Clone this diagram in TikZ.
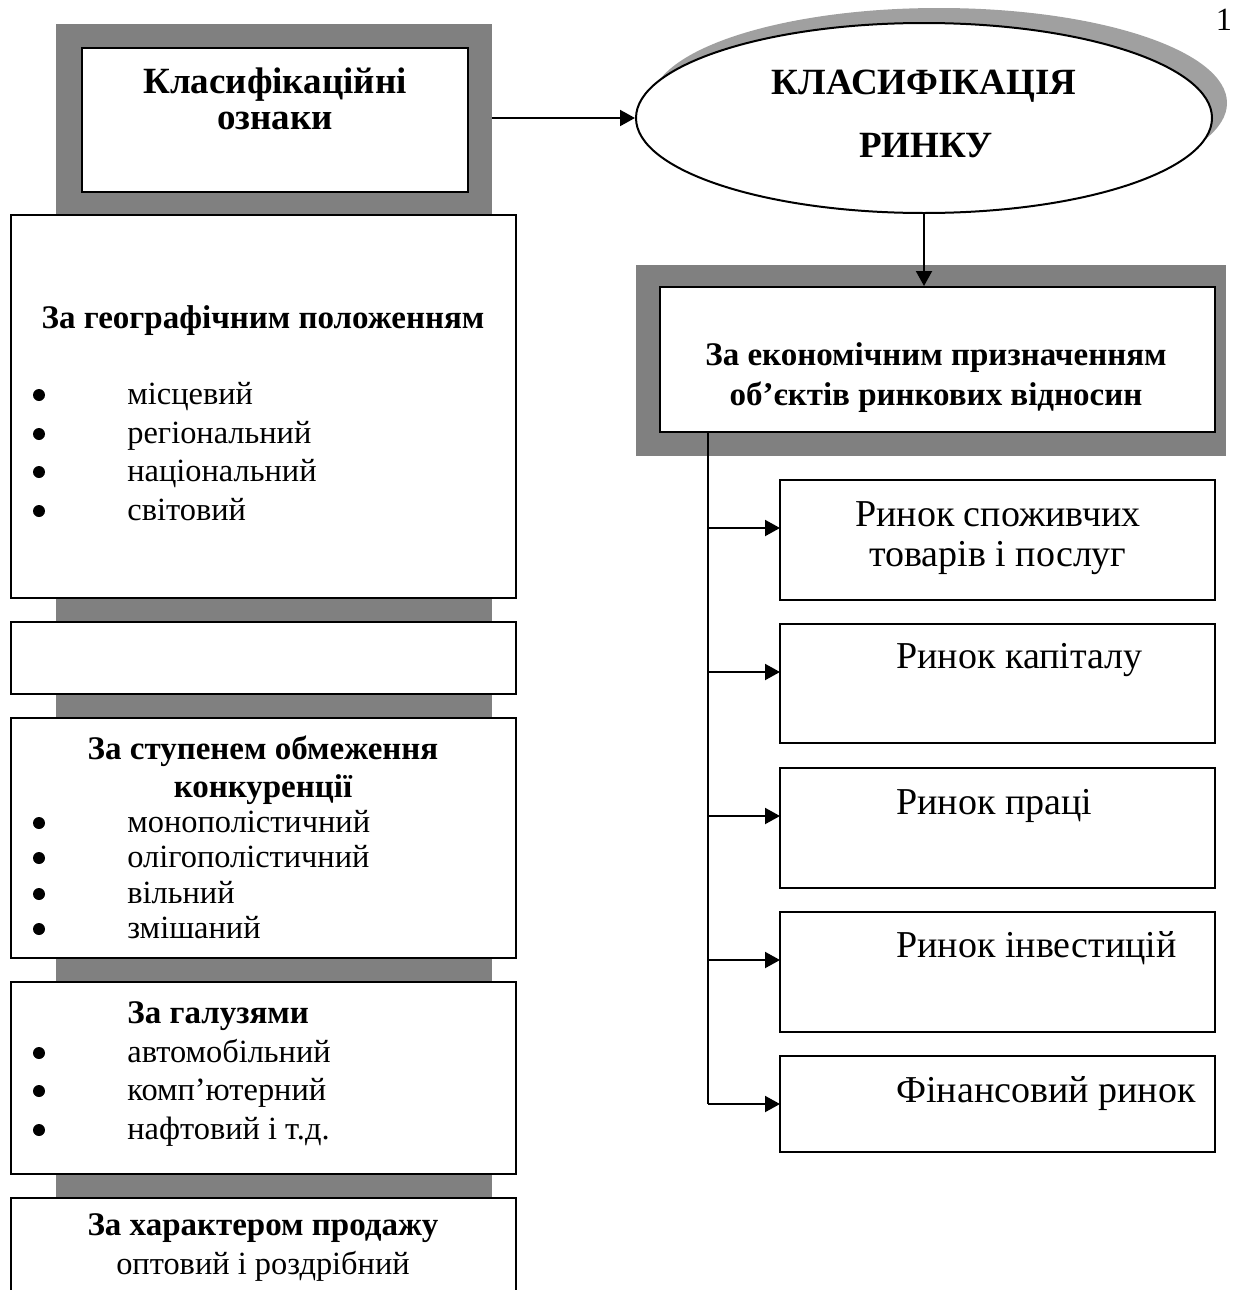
\documentclass[tikz,border=0pt]{standalone}
\usepackage{fontspec}
\setmainfont{Liberation Serif}
\usetikzlibrary{arrows.meta,fit,shapes.geometric}
\definecolor{boxgrey}{RGB}{128,128,128}
\definecolor{shadowgrey}{RGB}{160,160,160}
\begin{document}
\begin{tikzpicture}[x=0.5pt,y=-0.5pt,
  box/.style={draw=black,line width=1pt,fill=white,inner sep=0pt},
  greyband/.style={fill=boxgrey,draw=none,inner sep=0pt},
  arr/.style={line width=1pt,-{Triangle[length=7.5pt,width=8pt]}},
  conn/.style={line width=1pt},
  reg/.style={font=\fontsize{16.2}{19}\selectfont,inner sep=0pt,anchor=base},
  regw/.style={reg,anchor=base west},
  hd/.style={font=\fontsize{16.5}{19}\selectfont\bfseries,inner sep=0pt,anchor=base},
  hdw/.style={hd,anchor=base west},
  big/.style={font=\fontsize{19}{22}\selectfont,inner sep=0pt,anchor=base},
  bigw/.style={big,anchor=base west},
  ttl/.style={font=\fontsize{18.5}{22}\selectfont\bfseries,inner sep=0pt,anchor=base},
  dot/.style={circle,fill=black,draw=none,inner sep=0pt,minimum size=6pt},
]
\useasboundingbox (0,0) rectangle (1240,1290);

% ---------- left column ----------
\node[greyband, fit={(56,24) (492,1290)}] (gcol) {};
\node[box, fit={(82,48) (468,192)}] (tbox) {};
\node[ttl] (t1) at (275,93) {Класифікаційні};
\node[ttl] (t2) at (275,129) {ознаки};

\node[box, fit={(11,215) (516,598)}] (geo) {};
\node[hd] (geoh) at (263,328) {За географічним положенням};
\node[dot] (gd1) at (39,395) {};
\node[regw] (g1) at (127,404) {місцевий};
\node[dot] (gd2) at (39,434) {};
\node[regw] (g2) at (127,443) {регіональний};
\node[dot] (gd3) at (39,472) {};
\node[regw] (g3) at (127,481) {національний};
\node[dot] (gd4) at (39,511) {};
\node[regw] (g4) at (127,520) {світовий};

\node[box, fit={(11,622) (516,694)}] (empty) {};

\node[box, fit={(11,718) (516,958)}] (comp) {};
\node[hd] (ch1) at (263,759) {За ступенем обмеження};
\node[hd] (ch2) at (263,797) {конкуренції};
\node[dot] (cd1) at (39,823) {};
\node[regw] (c1) at (127,832) {монополістичний};
\node[dot] (cd2) at (39,858) {};
\node[regw] (c2) at (127,867) {олігополістичний};
\node[dot] (cd3) at (39,894) {};
\node[regw] (c3) at (127,903) {вільний};
\node[dot] (cd4) at (39,929) {};
\node[regw] (c4) at (127,938) {змішаний};

\node[box, fit={(11,982) (516,1174)}] (branch) {};
\node[hdw] (bh) at (127,1023) {За галузями};
\node[dot] (bd1) at (39,1053) {};
\node[regw] (br1) at (127,1062) {автомобільний};
\node[dot] (bd2) at (39,1091) {};
\node[regw] (br2) at (127,1100) {комп’ютерний};
\node[dot] (bd3) at (39,1130) {};
\node[regw] (br3) at (127,1139) {нафтовий і т.д.};

\node[fill=white, inner sep=0pt, fit={(11,1198) (516,1290)}] (sales) {};
\draw[line width=1pt] (sales.south west) -- (sales.north west) -- (sales.north east) -- (sales.south east);
\node[hd] (sh) at (263,1235) {За характером продажу};
\node[reg] (s1) at (263,1274) {оптовий і роздрібний};

% ---------- ellipse ----------
\node[ellipse, fill=shadowgrey, draw=none, minimum width=288pt, minimum height=95pt, inner sep=0pt] (ellsh) at (939,103) {};
\node[ellipse, fill=white, draw=black, line width=1pt, minimum width=288pt, minimum height=95pt, inner sep=0pt] (ell) at (924,118) {};
\node[ttl] (e1) at (924,94) {КЛАСИФІКАЦІЯ};
\node[ttl] (e2) at (926,157) {РИНКУ};

\node (pg) [reg] at (1224,30) {1};

\draw[arr] (gcol.east |- ell.west) -- (ell.west);

% ---------- right block ----------
\node[greyband, fit={(636,265) (1226,456)}] (rgrey) {};
\node[box, fit={(660,287) (1215,432)}] (econ) {};
\node[hd] (eh1) at (936,365) {За економічним призначенням};
\node[hd] (eh2) at (936,405) {об’єктів ринкових відносин};

\draw[arr] (ell.south) -- (ell.south |- econ.north);

\node[box, fit={(780,480) (1215,600)}] (b1) {};
\node[box, fit={(780,624) (1215,743)}] (b2) {};
\node[box, fit={(780,768) (1215,888)}] (b3) {};
\node[box, fit={(780,912) (1215,1032)}] (b4) {};
\node[box, fit={(780,1056) (1215,1152)}] (b5) {};

\node[big] (b1a) at (998,526) {Ринок споживчих};
\node[big] (b1b) at (998,566) {товарів і послуг};
\node[bigw] (b2a) at (896,668) {Ринок капіталу};
\node[bigw] (b3a) at (896,814) {Ринок праці};
\node[bigw] (b4a) at (896,957) {Ринок інвестицій};
\node[bigw] (b5a) at (896,1102) {Фінансовий ринок};

\coordinate (tt) at (708,432);
\coordinate (p1) at (780,528);
\coordinate (p2) at (780,672);
\coordinate (p3) at (780,816);
\coordinate (p4) at (780,960);
\coordinate (p5) at (780,1104);
\draw[conn] (tt) -- (tt |- p5);
\foreach \p in {p1,p2,p3,p4,p5} \draw[arr] (tt |- \p) -- (\p);
\end{tikzpicture}
\end{document}
